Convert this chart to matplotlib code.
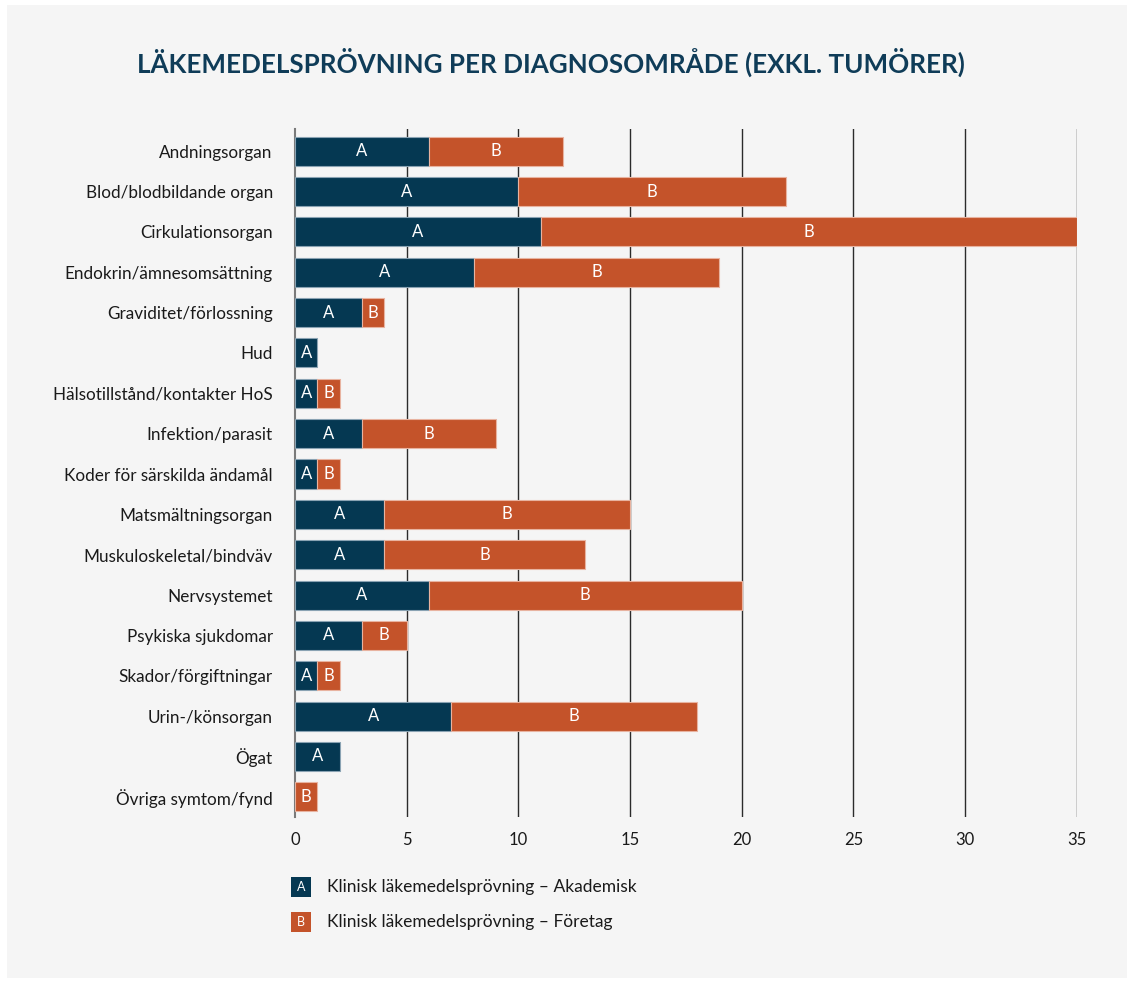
import numpy as np
import matplotlib.pyplot as plt
from matplotlib.patches import Rectangle

plt.rcParams['font.family'] = ['Lato', 'DejaVu Sans']

categories = ["Andningsorgan", "Blod/blodbildande organ", "Cirkulationsorgan",
              "Endokrin/ämnesomsättning", "Graviditet/förlossning", "Hud",
              "Hälsotillstånd/kontakter HoS", "Infektion/parasit",
              "Koder för särskilda ändamål", "Matsmältningsorgan",
              "Muskuloskeletal/bindväv", "Nervsystemet", "Psykiska sjukdomar",
              "Skador/förgiftningar", "Urin-/könsorgan", "Ögat",
              "Övriga symtom/fynd"]
akademisk = [6, 10, 11, 8, 3, 1, 1, 3, 1, 4, 4, 6, 3, 1, 7, 2, 0]
foretag = [6, 12, 24, 11, 1, 0, 1, 6, 1, 11, 9, 14, 2, 1, 11, 0, 1]
xticks = [0, 5, 10, 15, 20, 25, 30, 35]
series_names = ["Klinisk läkemedelsprövning – Akademisk",
                "Klinisk läkemedelsprövning – Företag"]

navy = "#053852"
orange = "#c4532a"
bg = "#f5f5f5"
title_col = "#0f3c58"

fig = plt.figure(figsize=(11.33, 9.83), dpi=100)
fig.patch.set_facecolor("white")
fig.patches.append(Rectangle((7 / 1133, 5 / 983), 1120 / 1133, 973 / 983,
                             transform=fig.transFigure, facecolor=bg,
                             edgecolor="none", zorder=-10))

ax = fig.add_axes([295 / 1133, 1 - 817 / 983, 781.7 / 1133, 688 / 983])
ax.set_facecolor("none")

y = np.arange(len(categories))
a = np.array(akademisk)
b = np.array(foretag)

for i in range(len(categories)):
    if a[i] > 0:
        ax.barh(y[i], a[i], height=0.72, color=navy, edgecolor="#8aa3b3",
                linewidth=0.8, zorder=3)
        ax.text(a[i] / 2, y[i], "A", color="white", ha="center", va="center",
                fontsize=12, zorder=4)
    if b[i] > 0:
        ax.barh(y[i], b[i], left=a[i], height=0.72, color=orange,
                edgecolor="#e8b3a0", linewidth=0.8, zorder=3)
        ax.text(a[i] + b[i] / 2, y[i], "B", color="white", ha="center",
                va="center", fontsize=12, zorder=4)

ax.set_xlim(0, 35)
ax.set_ylim(len(categories) - 0.5, -0.55)
ax.set_yticks(y)
ax.set_yticklabels(categories, fontsize=12.3, color="#1a1a1a")
ax.set_xticks(xticks)
ax.set_xticklabels([str(t) for t in xticks], fontsize=12, color="#1a1a1a")
ax.tick_params(axis="y", length=0, pad=16)
ax.tick_params(axis="x", length=0, pad=11)

for t in xticks[1:]:
    ax.axvline(t, color="#2b2b2b", linewidth=1, zorder=1)
for s in ["top", "right", "bottom"]:
    ax.spines[s].set_visible(False)
ax.spines["left"].set_color("#7a7a7a")
ax.spines["left"].set_linewidth(1.5)

fig.text(551 / 1133, 1 - 62 / 983,
         "LÄKEMEDELSPRÖVNING PER DIAGNOSOMRÅDE (EXKL. TUMÖRER)",
         ha="center", va="center", fontsize=18.7, fontweight="bold",
         color=title_col)

# legend drawn by hand
for k, (letter, col, name) in enumerate(zip(["A", "B"], [navy, orange],
                                             series_names)):
    yc = 887 + k * 35
    fig.patches.append(Rectangle((291 / 1133, 1 - (yc + 10) / 983),
                                 20 / 1133, 20 / 983,
                                 transform=fig.transFigure, facecolor=col,
                                 edgecolor="none"))
    fig.text(301 / 1133, 1 - yc / 983, letter, color="white", ha="center",
             va="center", fontsize=9)
    fig.text(327 / 1133, 1 - yc / 983, name, color="#1a1a1a", ha="left",
             va="center", fontsize=12.5)

fig.savefig("out.png", dpi=100, facecolor=fig.get_facecolor())
